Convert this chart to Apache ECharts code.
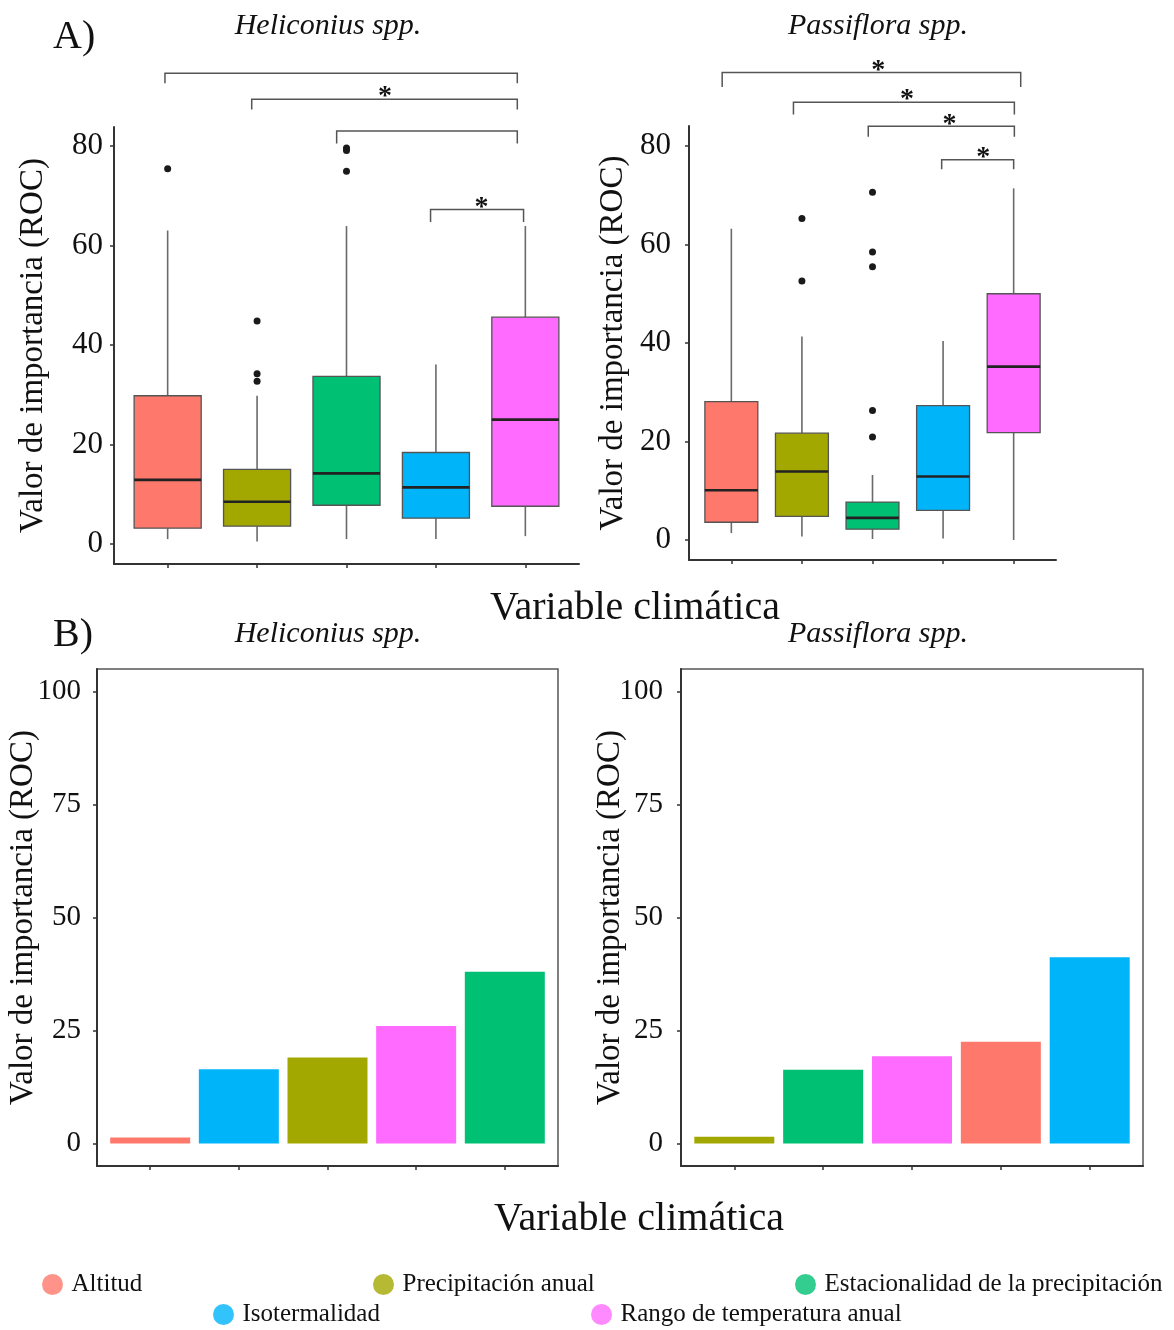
<!DOCTYPE html>
<html>
<head>
<meta charset="utf-8">
<script src="https://cdn.jsdelivr.net/npm/echarts@6.0.0/dist/echarts.min.js"></script>
<style>
  html, body { margin: 0; padding: 0; background: #fff; }
  #main { width: 1174px; height: 1330px; }
</style>
</head>
<body>
<div id="main"></div>
<script>
// variables and their colours (ggplot hue palette as printed)
const variables = ['Altitud', 'Precipitación anual', 'Estacionalidad de la precipitación', 'Isotermalidad', 'Rango de temperatura anual'];
const colors = ['#FF786C', '#A3A800', '#00C074', '#00B4FA', '#FF6BFF'];

// A) boxplots: [lowWhisker, q1, median, q3, highWhisker], same order as variables
const boxHeliconius = [
  [1.0, 3.2, 12.9, 29.8, 63.0],
  [0.5, 3.6, 8.5, 15.0, 29.8],
  [1.0, 7.8, 14.2, 33.7, 63.9],
  [1.0, 5.2, 11.4, 18.4, 36.1],
  [1.6, 7.6, 25.0, 45.6, 63.9]
];
const outHeliconius = [[1, 75.4], [2, 44.8], [2, 34.2], [2, 32.7], [3, 79.6], [3, 79.1], [3, 74.9]];

const boxPassiflora = [
  [1.4, 3.6, 10.1, 28.1, 63.2],
  [0.7, 4.8, 13.9, 21.7, 41.3],
  [0.2, 2.2, 4.5, 7.7, 13.2],
  [0.3, 6.0, 12.9, 27.3, 40.4],
  [0.0, 21.8, 35.2, 50.0, 71.4]
];
const outPassiflora = [[2, 65.3], [2, 52.6], [3, 70.6], [3, 58.5], [3, 55.5], [3, 26.3], [3, 20.9]];

// significance brackets: [x1, x2, top, foot, starX (null = no star)]
const bracketsHeliconius = [
  [0.97, 4.91, 94.6, 92.6, null],
  [1.94, 4.91, 89.4, 87.3, 3.43],
  [2.89, 4.91, 83.0, 80.5, null],
  [3.94, 4.98, 67.2, 64.7, 4.51]
];
const bracketsPassiflora = [
  [0.87, 5.10, 94.9, 92.0, 3.08],
  [1.88, 5.01, 88.9, 86.4, 3.49],
  [2.94, 5.01, 84.0, 81.9, 4.09],
  [3.98, 5.00, 77.2, 75.3, 4.57]
];

// B) bar charts, sorted as in the figure
const barHeliconiusOrder = ['Altitud', 'Isotermalidad', 'Precipitación anual', 'Rango de temperatura anual', 'Estacionalidad de la precipitación'];
const barHeliconiusValues = [1.3, 16.4, 19.0, 26.0, 38.0];
const barPassifloraOrder = ['Precipitación anual', 'Estacionalidad de la precipitación', 'Rango de temperatura anual', 'Altitud', 'Isotermalidad'];
const barPassifloraValues = [1.5, 16.3, 19.3, 22.5, 41.2];

const ticksA = [0, 20, 40, 60, 80];
const ticksB = [0, 25, 50, 75, 100];
const catTicks = [1, 2, 3, 4, 5];

const font = 'Liberation Serif';
const ink = '#111';
const axisInk = '#333';

const chart = echarts.init(document.getElementById('main'));

function boxRender(params, api) {
  const x = api.value(0);
  const lo = api.coord([x, api.value(1)]);
  const q1 = api.coord([x, api.value(2)]);
  const md = api.coord([x, api.value(3)]);
  const q3 = api.coord([x, api.value(4)]);
  const hi = api.coord([x, api.value(5)]);
  const half = api.size([0.75, 0])[0] / 2;
  const whisker = { stroke: '#6a6a6a', lineWidth: 1.6 };
  return {
    type: 'group',
    children: [
      { type: 'line', shape: { x1: hi[0], y1: hi[1], x2: q3[0], y2: q3[1] }, style: whisker },
      { type: 'line', shape: { x1: lo[0], y1: lo[1], x2: q1[0], y2: q1[1] }, style: whisker },
      { type: 'rect', shape: { x: q3[0] - half, y: q3[1], width: half * 2, height: q1[1] - q3[1] },
        style: { fill: colors[params.dataIndex], stroke: '#555', lineWidth: 1.3 } },
      { type: 'line', shape: { x1: md[0] - half, y1: md[1], x2: md[0] + half, y2: md[1] },
        style: { stroke: '#222', lineWidth: 2.6 } }
    ]
  };
}

function bracketRender(params, api) {
  const x1 = api.value(0), x2 = api.value(1), top = api.value(2), foot = api.value(3);
  const a = api.coord([x1, foot]);
  const b = api.coord([x1, top]);
  const c = api.coord([x2, top]);
  const d = api.coord([x2, foot]);
  const children = [
    { type: 'polyline', shape: { points: [a, b, c, d] }, style: { stroke: '#555', lineWidth: 1.5, fill: null } }
  ];
  const sx = api.value(4);
  if (sx !== null && !isNaN(sx)) {
    const s = api.coord([sx, top]);
    children.push({
      type: 'text',
      x: s[0], y: s[1] - 2,
      style: { text: '*', fontSize: 28, fontWeight: 'bold', fontFamily: font, fill: '#111', align: 'center', verticalAlign: 'middle' }
    });
  }
  return { type: 'group', children: children };
}

function boxData(rows) {
  return rows.map((r, i) => [i + 1].concat(r));
}

function barData(order, values) {
  return order.map((name, i) => ({
    name: name,
    value: [i + 1, values[i]],
    itemStyle: { color: colors[variables.indexOf(name)] }
  }));
}

function xAxisFor(gridIndex) {
  return {
    type: 'value', gridIndex: gridIndex, min: 0.4, max: 5.6,
    axisLine: { show: true, onZero: false, lineStyle: { color: axisInk, width: 2 } },
    axisTick: { show: true, customValues: catTicks, length: 4, lineStyle: { color: axisInk, width: 1.5 } },
    axisLabel: { show: false },
    splitLine: { show: false }
  };
}

function yAxisFor(gridIndex, min, max, ticks, labelSize, margin, nameGap) {
  return {
    type: 'value', gridIndex: gridIndex, min: min, max: max,
    name: 'Valor de importancia (ROC)', nameLocation: 'middle', nameGap: nameGap, nameRotate: 90,
    nameMoveOverlap: false,
    nameTextStyle: { fontSize: 33, fontFamily: font, color: ink },
    axisLine: { show: true, onZero: false, lineStyle: { color: axisInk, width: 2 } },
    axisTick: { show: true, customValues: ticks, length: 4, lineStyle: { color: axisInk, width: 1.5 } },
    axisLabel: { customValues: ticks, fontSize: labelSize, fontFamily: font, color: ink, margin: margin },
    splitLine: { show: false }
  };
}

function label(text, left, top, size, extra) {
  return Object.assign({
    text: text, left: left, top: top, padding: 0,
    textStyle: { fontSize: size, fontWeight: 'normal', fontFamily: font, color: ink }
  }, extra || {});
}

function italicTitle(text, left, top) {
  return {
    text: text, left: left, top: top, padding: 0, textAlign: 'center',
    textStyle: { fontSize: 30, fontStyle: 'italic', fontWeight: 'normal', fontFamily: font, color: ink }
  };
}

// legend entries placed as in the figure (two staggered rows)
const legendPos = [[42, 1272], [373, 1272], [795, 1272], [213, 1302], [591, 1302]];

const option = {
  backgroundColor: '#fff',
  animation: false,
  title: [
    label('A)', 53, 17, 40),
    label('B)', 53, 615, 40),
    italicTitle('Heliconius spp.', 328, 11),
    italicTitle('Passiflora spp.', 878, 11),
    italicTitle('Heliconius spp.', 328, 619),
    italicTitle('Passiflora spp.', 878, 619),
    label('Variable climática', 635, 588, 40, { textAlign: 'center' }),
    label('Variable climática', 639, 1199, 40, { textAlign: 'center' })
  ],
  legend: variables.map((v, i) => ({
    data: [v], left: legendPos[i][0], top: legendPos[i][1], padding: 0,
    icon: 'circle', itemWidth: 28, itemHeight: 21, selectedMode: false,
    textStyle: { fontSize: 25, fontFamily: font, color: ink }
  })),
  grid: [
    { left: 114, top: 127, width: 465, height: 437, outerBoundsMode: 'none' },
    { left: 689, top: 126, width: 367, height: 434, outerBoundsMode: 'none' },
    { left: 97, top: 669, width: 461, height: 497, outerBoundsMode: 'none', show: true, borderColor: '#555', borderWidth: 1.5 },
    { left: 681, top: 669, width: 462, height: 497, outerBoundsMode: 'none', show: true, borderColor: '#555', borderWidth: 1.5 }
  ],
  xAxis: [xAxisFor(0), xAxisFor(1), xAxisFor(2), xAxisFor(3)],
  yAxis: [
    yAxisFor(0, -4.0, 83.8, ticksA, 31, 11, 64),
    yAxisFor(1, -4.06, 84.06, ticksA, 31, 18, 59),
    yAxisFor(2, -5, 105, ticksB, 29, 16, 57),
    yAxisFor(3, -5, 105, ticksB, 29, 18, 54)
  ],
  series: [
    { type: 'custom', xAxisIndex: 0, yAxisIndex: 0, clip: false, renderItem: boxRender, data: boxData(boxHeliconius), encode: { x: 0, y: [1, 2, 3, 4, 5] }, z: 2 },
    { type: 'scatter', xAxisIndex: 0, yAxisIndex: 0, data: outHeliconius, symbolSize: 7, itemStyle: { color: '#1a1a1a', opacity: 1 }, z: 3 },
    { type: 'custom', xAxisIndex: 0, yAxisIndex: 0, clip: false, renderItem: bracketRender, data: bracketsHeliconius, encode: { x: [0, 1], y: [2, 3] }, z: 3 },
    { type: 'custom', xAxisIndex: 1, yAxisIndex: 1, clip: false, renderItem: boxRender, data: boxData(boxPassiflora), encode: { x: 0, y: [1, 2, 3, 4, 5] }, z: 2 },
    { type: 'scatter', xAxisIndex: 1, yAxisIndex: 1, data: outPassiflora, symbolSize: 7, itemStyle: { color: '#1a1a1a', opacity: 1 }, z: 3 },
    { type: 'custom', xAxisIndex: 1, yAxisIndex: 1, clip: false, renderItem: bracketRender, data: bracketsPassiflora, encode: { x: [0, 1], y: [2, 3] }, z: 3 },
    { type: 'bar', xAxisIndex: 2, yAxisIndex: 2, barWidth: 80, data: barData(barHeliconiusOrder, barHeliconiusValues) },
    { type: 'bar', xAxisIndex: 3, yAxisIndex: 3, barWidth: 80, data: barData(barPassifloraOrder, barPassifloraValues) }
  ].concat(variables.map((v, i) => ({
    type: 'scatter', name: v, data: [], xAxisIndex: 0, yAxisIndex: 0, itemStyle: { color: colors[i] }
  })))
};

chart.setOption(option);
</script>
</body>
</html>
